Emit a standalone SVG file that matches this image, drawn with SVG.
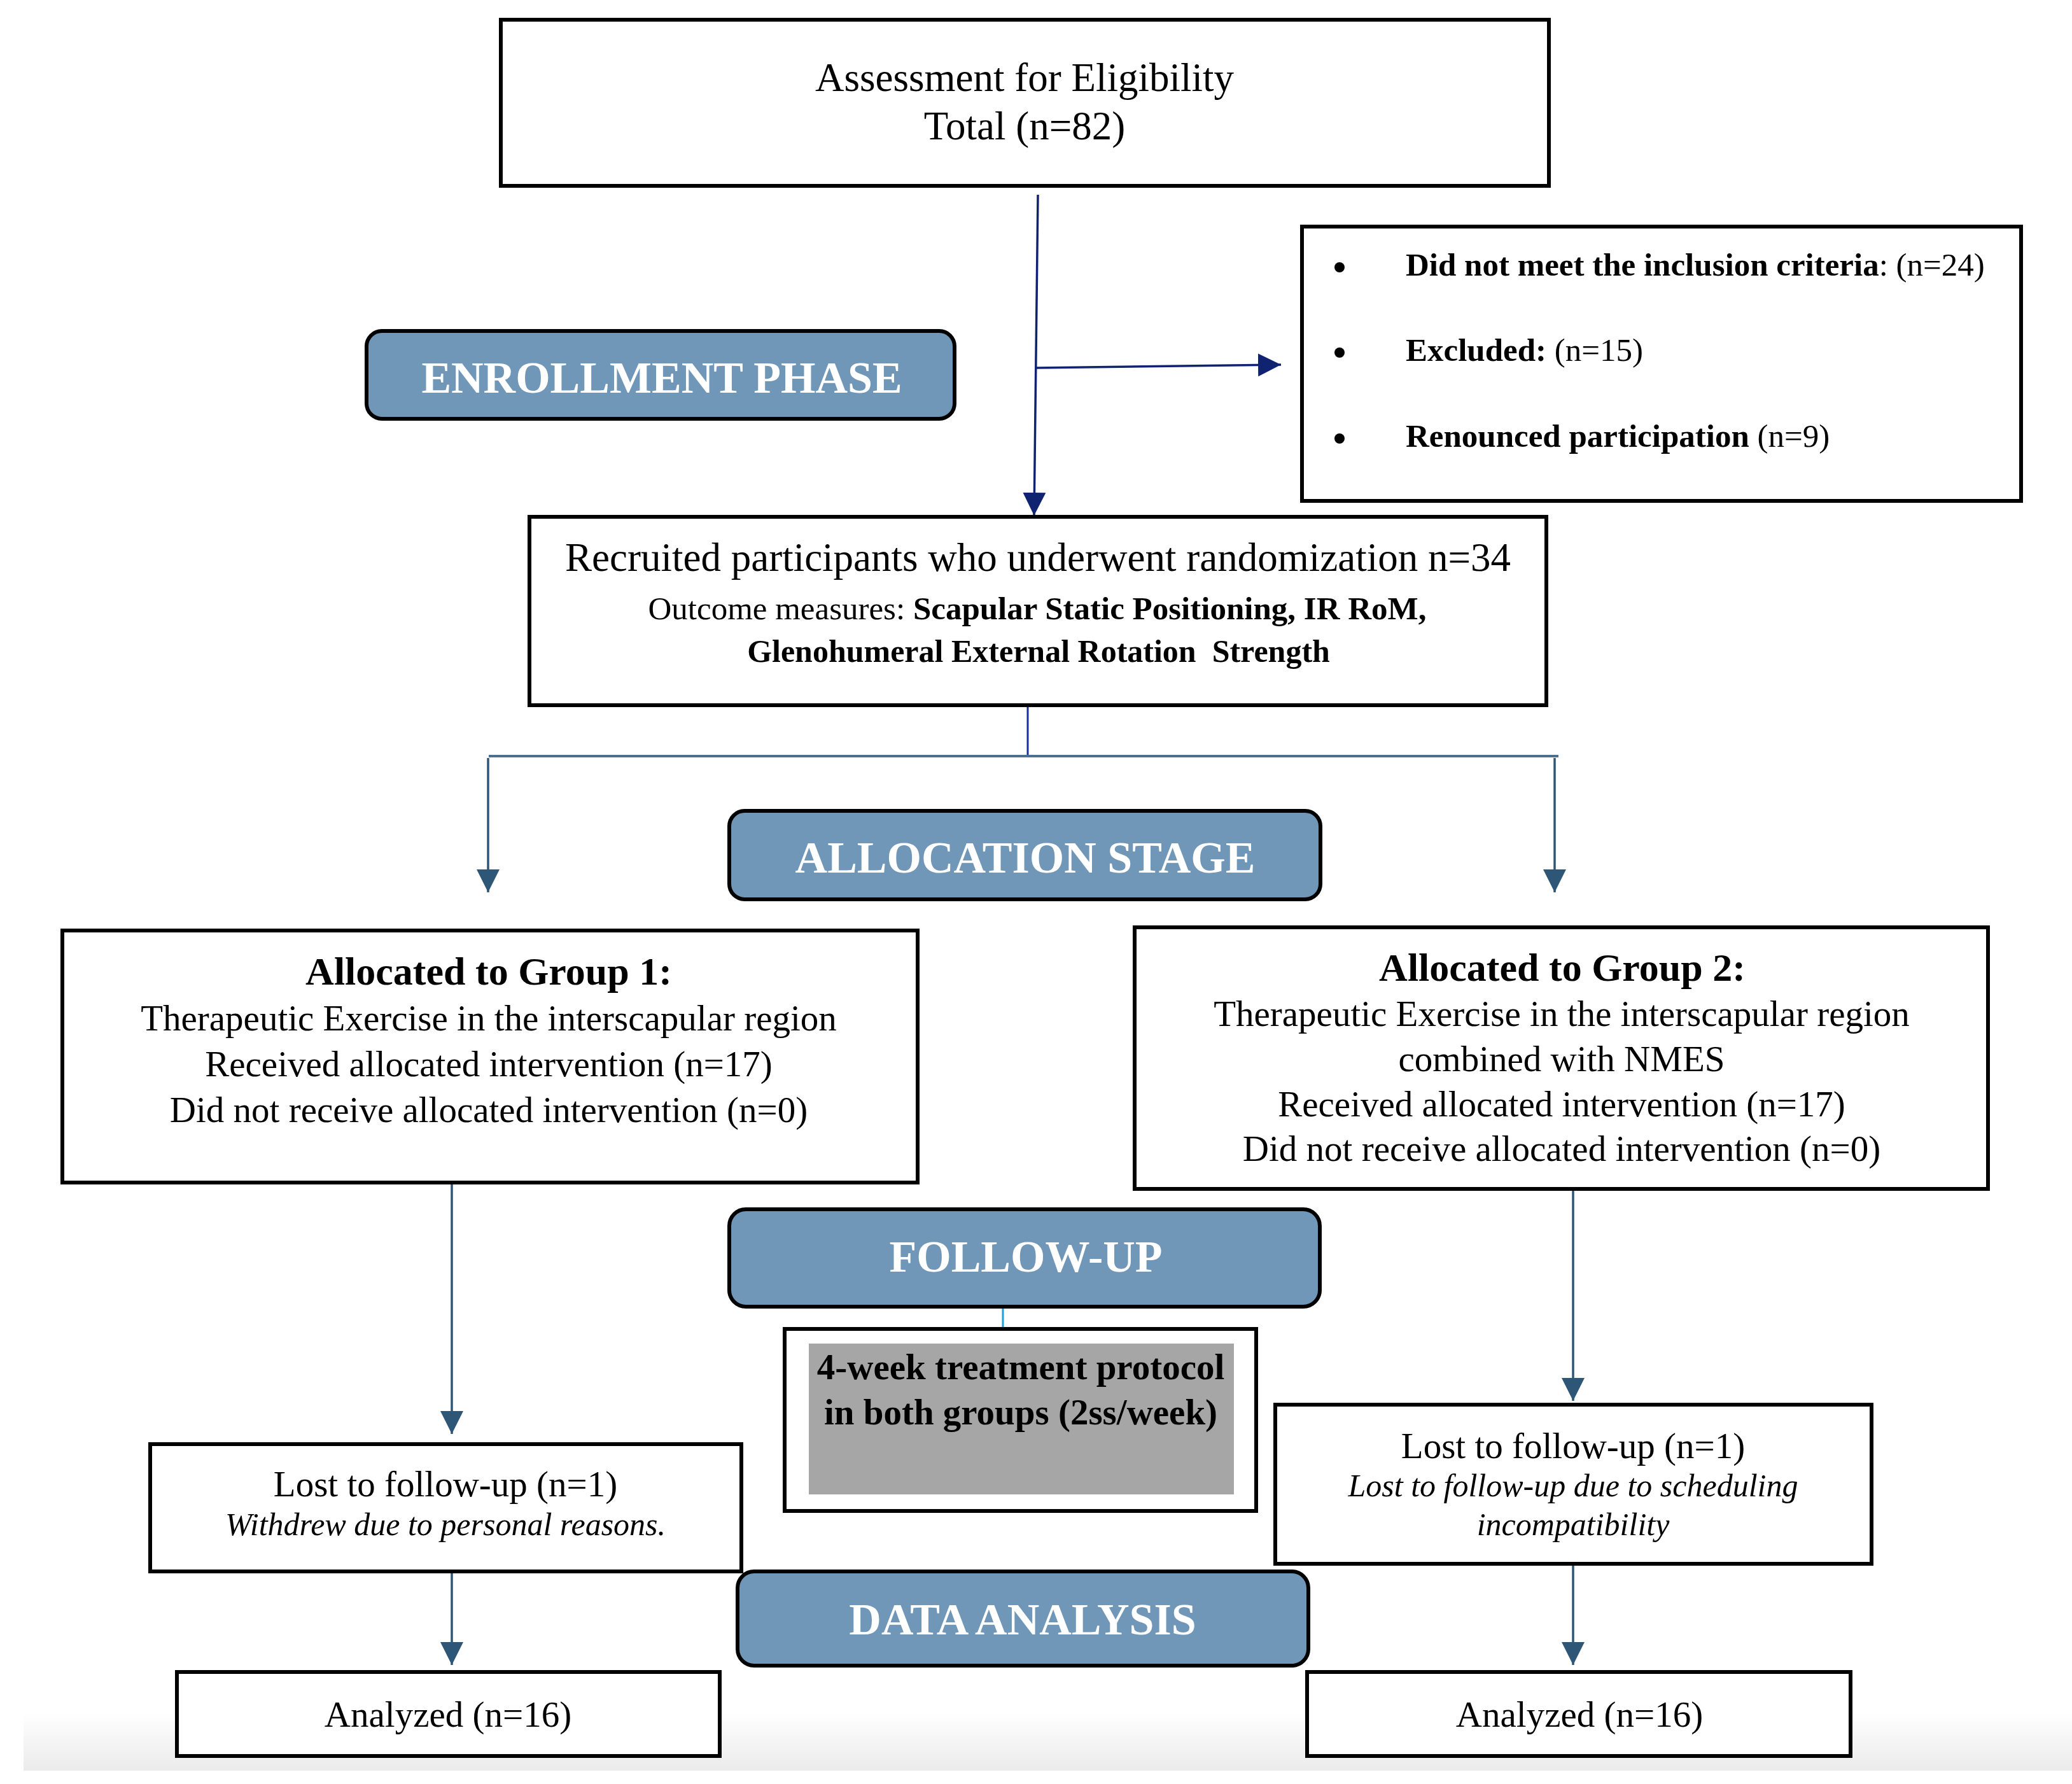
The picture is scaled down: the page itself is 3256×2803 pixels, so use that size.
<svg xmlns="http://www.w3.org/2000/svg" width="3256" height="2803" viewBox="0 0 3256 2803">
<defs>
<linearGradient id="fade" x1="0" y1="0" x2="0" y2="1">
<stop offset="0" stop-color="#ffffff"/>
<stop offset="1" stop-color="#ebebeb"/>
</linearGradient>
<marker id="ahNavy" markerUnits="userSpaceOnUse" markerWidth="38" markerHeight="38" refX="36" refY="18" orient="auto" viewBox="0 0 38 38">
<path d="M0,0 L36,18 L0,36 z" fill="#0f2370"/>
</marker>
<marker id="ahSlate" markerUnits="userSpaceOnUse" markerWidth="38" markerHeight="38" refX="36" refY="18" orient="auto" viewBox="0 0 38 38">
<path d="M0,0 L36,18 L0,36 z" fill="#2d5677"/>
</marker>
</defs>
<style>
.box{fill:#ffffff;stroke:#000000;stroke-width:6}
.phase{fill:#7097b7;stroke:#000000;stroke-width:6}
.t{font-family:"Liberation Serif","Times New Roman",serif;fill:#000000}
.ph{font-family:"Liberation Serif","Times New Roman",serif;font-weight:bold;font-size:70px;fill:#ffffff;text-anchor:middle}
.c{text-anchor:middle}
.b{font-weight:bold}
.i{font-style:italic}
.navy{stroke:#0f2370;stroke-width:3.5;fill:none}
.slate{stroke:#2d5677;stroke-width:3.5;fill:none}
</style>
<rect x="37" y="2690" width="3219" height="92" fill="url(#fade)"/>

<g id="connectors">
<line class="navy" x1="1631" y1="306" x2="1625" y2="810" marker-end="url(#ahNavy)"/>
<line class="navy" x1="1628" y1="578" x2="2013" y2="573" marker-end="url(#ahNavy)"/>
<line stroke="#14309a" stroke-width="3" x1="1615" y1="1108" x2="1615" y2="1190"/>
<line stroke="#4b6f8d" stroke-width="4" x1="768" y1="1188" x2="2449" y2="1188"/>
<line class="slate" x1="767" y1="1191" x2="767" y2="1402" marker-end="url(#ahSlate)"/>
<line class="slate" x1="2443" y1="1191" x2="2443" y2="1402" marker-end="url(#ahSlate)"/>
<line class="slate" x1="710" y1="1860" x2="710" y2="2253" marker-end="url(#ahSlate)"/>
<line class="slate" x1="2472" y1="1870" x2="2472" y2="2201" marker-end="url(#ahSlate)"/>
<line class="slate" x1="710" y1="2471" x2="710" y2="2616" marker-end="url(#ahSlate)"/>
<line class="slate" x1="2472" y1="2459" x2="2472" y2="2616" marker-end="url(#ahSlate)"/>
<line stroke="#1ba1d8" stroke-width="3" x1="1576" y1="2053" x2="1576" y2="2088"/>
</g>

<g id="assessment">
<rect class="box" x="787" y="31" width="1647" height="261" stroke-width="5"/>
<text class="t c" x="1610" y="143" font-size="63">Assessment for Eligibility</text>
<text class="t c" x="1610" y="219" font-size="63">Total (n=82)</text>
</g>

<g id="exclusions">
<rect class="box" x="2046" y="356" width="1130" height="431"/>
<circle cx="2105" cy="420" r="8" fill="#000"/>
<circle cx="2105" cy="554" r="8" fill="#000"/>
<circle cx="2105" cy="689" r="8" fill="#000"/>
<text class="t" x="2209" y="433" font-size="51"><tspan class="b">Did not meet the inclusion criteria</tspan>: (n=24)</text>
<text class="t" x="2209" y="567" font-size="51"><tspan class="b">Excluded:</tspan> (n=15)</text>
<text class="t" x="2209" y="702" font-size="51"><tspan class="b">Renounced participation</tspan> (n=9)</text>
</g>

<g id="enrollment-phase">
<rect class="phase" x="576" y="520" width="924" height="138" rx="24"/>
<text class="ph" x="1040" y="617" font-size="69">ENROLLMENT PHASE</text>
</g>

<g id="recruited">
<rect class="box" x="832" y="812" width="1598" height="296"/>
<text class="t c" x="1631" y="897" font-size="63">Recruited participants who underwent randomization n=34</text>
<text class="t c" x="1630" y="973" font-size="51">Outcome measures: <tspan class="b">Scapular Static Positioning, IR RoM,</tspan></text>
<text class="t c b" x="1632" y="1040" font-size="50" xml:space="preserve">Glenohumeral External Rotation  Strength</text>
</g>

<g id="allocation-stage">
<rect class="phase" x="1146" y="1274" width="929" height="139" rx="24"/>
<text class="ph" x="1611" y="1371">ALLOCATION STAGE</text>
</g>

<g id="group1">
<rect class="box" x="98" y="1462" width="1344" height="396"/>
<text class="t c b" x="768" y="1547" font-size="62">Allocated to Group 1:</text>
<text class="t c" x="768" y="1619" font-size="57">Therapeutic Exercise in the interscapular region</text>
<text class="t c" x="768" y="1691" font-size="57">Received allocated intervention (n=17)</text>
<text class="t c" x="768" y="1763" font-size="57">Did not receive allocated intervention (n=0)</text>
</g>

<g id="group2">
<rect class="box" x="1783" y="1457" width="1341" height="411"/>
<text class="t c b" x="2455" y="1541" font-size="62">Allocated to Group 2:</text>
<text class="t c" x="2454" y="1612" font-size="57">Therapeutic Exercise in the interscapular region</text>
<text class="t c" x="2454" y="1683" font-size="57">combined with NMES</text>
<text class="t c" x="2454" y="1754" font-size="57">Received allocated intervention (n=17)</text>
<text class="t c" x="2454" y="1824" font-size="57">Did not receive allocated intervention (n=0)</text>
</g>

<g id="follow-up">
<rect class="phase" x="1146" y="1900" width="928" height="153" rx="26"/>
<text class="ph" x="1612" y="1998">FOLLOW-UP</text>
</g>

<g id="protocol">
<rect class="box" x="1233" y="2088" width="741" height="286"/>
<rect x="1271" y="2111" width="668" height="237" fill="#a6a6a6"/>
<text class="t c b" x="1604" y="2167" font-size="57">4-week treatment protocol</text>
<text class="t c b" x="1604" y="2238" font-size="57">in both groups (2ss/week)</text>
</g>

<g id="lost1">
<rect class="box" x="236" y="2269" width="929" height="200"/>
<text class="t c" x="700" y="2351" font-size="57">Lost to follow-up (n=1)</text>
<text class="t c i" x="700" y="2412" font-size="50">Withdrew due to personal reasons.</text>
</g>

<g id="lost2">
<rect class="box" x="2004" y="2207" width="937" height="250"/>
<text class="t c" x="2472" y="2291" font-size="57">Lost to follow-up (n=1)</text>
<text class="t c i" x="2472" y="2351" font-size="50">Lost to follow-up due to scheduling</text>
<text class="t c i" x="2472" y="2412" font-size="50">incompatibility</text>
</g>

<g id="data-analysis">
<rect class="phase" x="1159" y="2469" width="897" height="148" rx="26"/>
<text class="ph" x="1607" y="2568" font-size="72">DATA ANALYSIS</text>
</g>

<g id="analyzed1">
<rect class="box" x="278" y="2627" width="853" height="132"/>
<text class="t c" x="704" y="2713" font-size="57">Analyzed (n=16)</text>
</g>

<g id="analyzed2">
<rect class="box" x="2054" y="2627" width="854" height="132"/>
<text class="t c" x="2482" y="2713" font-size="57">Analyzed (n=16)</text>
</g>
</svg>
